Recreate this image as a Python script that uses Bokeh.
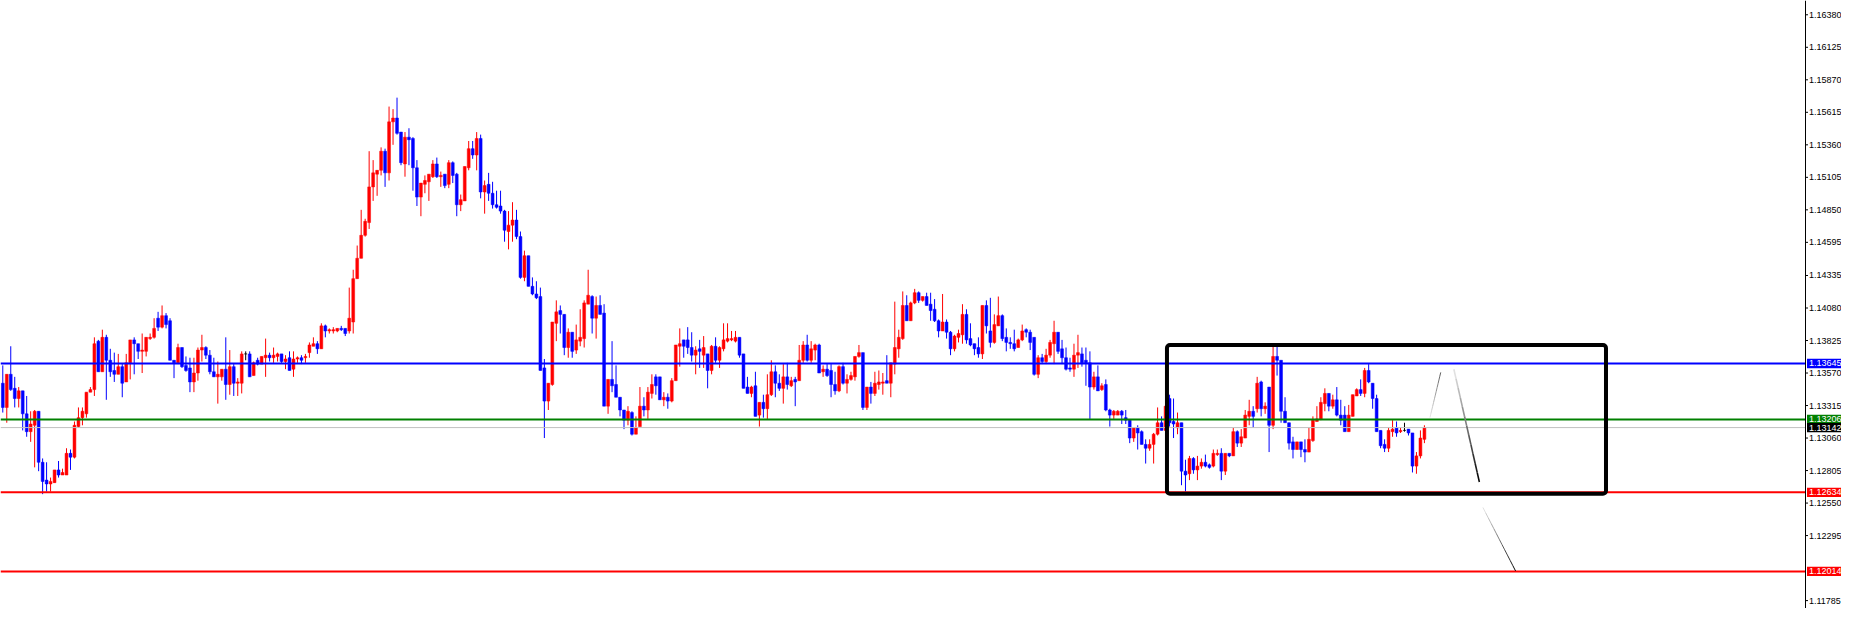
from bokeh.plotting import figure
from bokeh.models import Range1d, BoxAnnotation, ColumnDataSource
from bokeh.core.properties import value
from bokeh.embed import file_html
from bokeh.resources import INLINE

# ---------------- data (candles) ----------------
open_ = [
    1.1349, 1.1330, 1.1356, 1.1345, 1.1337, 1.1343, 1.1325, 1.1311, 1.1316, 1.1327,
    1.1287, 1.1273, 1.1270, 1.1271, 1.1281, 1.1277, 1.1277, 1.1294, 1.1291, 1.1315,
    1.1322, 1.1325, 1.1342, 1.1344, 1.1382, 1.1358, 1.1385, 1.1367, 1.1359, 1.1356,
    1.1362, 1.1350, 1.1365, 1.1383, 1.1380, 1.1374, 1.1374, 1.1384, 1.1385, 1.1400,
    1.1393, 1.1402, 1.1398, 1.1367, 1.1365, 1.1377, 1.1363, 1.1361, 1.1350, 1.1357,
    1.1375, 1.1377, 1.1371, 1.1358, 1.1354, 1.1354, 1.1360, 1.1348, 1.1362, 1.1349,
    1.1349, 1.1372, 1.1372, 1.1355, 1.1367, 1.1364, 1.1369, 1.1371, 1.1369, 1.1370,
    1.1372, 1.1366, 1.1369, 1.1360, 1.1368, 1.1369, 1.1369, 1.1373, 1.1378, 1.1380,
    1.1376, 1.1394, 1.1390, 1.1390, 1.1390, 1.1392, 1.1392, 1.1390, 1.1397, 1.1431,
    1.1447, 1.1465, 1.1475, 1.1503, 1.1513, 1.1516, 1.1531, 1.1514, 1.1554, 1.1557,
    1.1546, 1.1521, 1.1542, 1.1541, 1.1518, 1.1495, 1.1505, 1.1507, 1.1511, 1.1521,
    1.1511, 1.1513, 1.1505, 1.1522, 1.1513, 1.1489, 1.1492, 1.1518, 1.1533, 1.1528,
    1.1541, 1.1499, 1.1505, 1.1498, 1.1489, 1.1488, 1.1484, 1.1468, 1.1473, 1.1477,
    1.1464, 1.1432, 1.1449, 1.1425, 1.1419, 1.1417, 1.1361, 1.1335, 1.1348, 1.1396,
    1.1406, 1.1403, 1.1377, 1.1389, 1.1375, 1.1382, 1.1384, 1.1411, 1.1417, 1.1400,
    1.1410, 1.1404, 1.1331, 1.1352, 1.1348, 1.1338, 1.1328, 1.1320, 1.1326, 1.1309,
    1.1315, 1.1331, 1.1328, 1.1341, 1.1354, 1.1354, 1.1336, 1.1338, 1.1335, 1.1351,
    1.1378, 1.1383, 1.1383, 1.1377, 1.1371, 1.1376, 1.1371, 1.1372, 1.1359, 1.1378,
    1.1367, 1.1376, 1.1382, 1.1383, 1.1382, 1.1385, 1.1372, 1.1346, 1.1341, 1.1347,
    1.1324, 1.1334, 1.1329, 1.1340, 1.1358, 1.1349, 1.1345, 1.1354, 1.1347, 1.1352,
    1.1351, 1.1367, 1.1379, 1.1367, 1.1375, 1.1379, 1.1358, 1.1360, 1.1359, 1.1348,
    1.1343, 1.1362, 1.1349, 1.1352, 1.1354, 1.1370, 1.1373, 1.1330, 1.1346, 1.1341,
    1.1348, 1.1349, 1.1351, 1.1349, 1.1364, 1.1376, 1.1384, 1.1410, 1.1398, 1.1412,
    1.1420, 1.1414, 1.1417, 1.1411, 1.1407, 1.1398, 1.1390, 1.1397, 1.1389, 1.1376,
    1.1385, 1.1387, 1.1403, 1.1384, 1.1380, 1.1377, 1.1372, 1.1410, 1.1390, 1.1381,
    1.1394, 1.1402, 1.1385, 1.1381, 1.1380, 1.1377, 1.1383, 1.1391, 1.1389, 1.1385,
    1.1356, 1.1369, 1.1366, 1.1371, 1.1380, 1.1389, 1.1376, 1.1369, 1.1361, 1.1360,
    1.1371, 1.1372, 1.1367, 1.1365, 1.1346, 1.1354, 1.1344, 1.1348, 1.1328, 1.1324,
    1.1324, 1.1327, 1.1322, 1.1320, 1.1306, 1.1314, 1.1311, 1.1301, 1.1298, 1.1301,
    1.1309, 1.1318, 1.1312, 1.1337, 1.1319, 1.1314, 1.1318, 1.1280, 1.1278, 1.1290,
    1.1281, 1.1284, 1.1287, 1.1285, 1.1284, 1.1293, 1.1294, 1.1280, 1.1294, 1.1292,
    1.1311, 1.1302, 1.1306, 1.1323, 1.1327, 1.1329, 1.1350, 1.1329, 1.1346, 1.1316,
    1.1370, 1.1367, 1.1327, 1.1318, 1.1303, 1.1297, 1.1303, 1.1297, 1.1295, 1.1304,
    1.1319, 1.1321, 1.1333, 1.1341, 1.1331, 1.1336, 1.1324, 1.1324, 1.1311, 1.1323,
    1.1339, 1.1344, 1.1341, 1.1359, 1.1349, 1.1337, 1.1312, 1.1301, 1.1298, 1.1311,
    1.1314, 1.1311, 1.1312, 1.1313, 1.1310, 1.1284, 1.1292, 1.1305,
]
high = [
    1.1363, 1.1356, 1.1378, 1.1354, 1.1346, 1.1343, 1.1339, 1.1327, 1.1328, 1.1327,
    1.1290, 1.1287, 1.1275, 1.1281, 1.1288, 1.1282, 1.1298, 1.1297, 1.1319, 1.1330,
    1.1330, 1.1342, 1.1346, 1.1385, 1.1383, 1.1391, 1.1387, 1.1376, 1.1373, 1.1372,
    1.1364, 1.1372, 1.1383, 1.1385, 1.1380, 1.1388, 1.1385, 1.1388, 1.1400, 1.1405,
    1.1410, 1.1404, 1.1400, 1.1367, 1.1380, 1.1377, 1.1370, 1.1369, 1.1369, 1.1377,
    1.1387, 1.1378, 1.1375, 1.1369, 1.1366, 1.1360, 1.1385, 1.1375, 1.1364, 1.1353,
    1.1374, 1.1374, 1.1374, 1.1366, 1.1369, 1.1370, 1.1384, 1.1373, 1.1377, 1.1373,
    1.1372, 1.1371, 1.1374, 1.1374, 1.1370, 1.1371, 1.1372, 1.1381, 1.1385, 1.1382,
    1.1396, 1.1395, 1.1392, 1.1393, 1.1392, 1.1394, 1.1392, 1.1424, 1.1438, 1.1457,
    1.1485, 1.1478, 1.1531, 1.1524, 1.1516, 1.1534, 1.1533, 1.1566, 1.1564, 1.1573,
    1.1546, 1.1546, 1.1549, 1.1542, 1.1524, 1.1506, 1.1512, 1.1513, 1.1524, 1.1526,
    1.1515, 1.1513, 1.1524, 1.1523, 1.1514, 1.1497, 1.1519, 1.1539, 1.1539, 1.1546,
    1.1544, 1.1508, 1.1514, 1.1507, 1.1500, 1.1500, 1.1485, 1.1484, 1.1491, 1.1485,
    1.1468, 1.1453, 1.1449, 1.1432, 1.1429, 1.1424, 1.1368, 1.1349, 1.1397, 1.1414,
    1.1410, 1.1403, 1.1392, 1.1389, 1.1395, 1.1407, 1.1414, 1.1438, 1.1418, 1.1417,
    1.1418, 1.1411, 1.1352, 1.1382, 1.1363, 1.1338, 1.1328, 1.1331, 1.1327, 1.1323,
    1.1346, 1.1338, 1.1346, 1.1356, 1.1356, 1.1354, 1.1342, 1.1341, 1.1353, 1.1379,
    1.1392, 1.1383, 1.1393, 1.1389, 1.1378, 1.1383, 1.1386, 1.1372, 1.1379, 1.1385,
    1.1378, 1.1396, 1.1396, 1.1390, 1.1390, 1.1385, 1.1372, 1.1354, 1.1347, 1.1358,
    1.1334, 1.1340, 1.1356, 1.1367, 1.1363, 1.1356, 1.1364, 1.1365, 1.1354, 1.1354,
    1.1379, 1.1382, 1.1387, 1.1382, 1.1380, 1.1380, 1.1363, 1.1364, 1.1364, 1.1358,
    1.1363, 1.1365, 1.1356, 1.1358, 1.1370, 1.1379, 1.1373, 1.1346, 1.1350, 1.1358,
    1.1359, 1.1357, 1.1371, 1.1365, 1.1413, 1.1391, 1.1421, 1.1418, 1.1413, 1.1423,
    1.1421, 1.1417, 1.1420, 1.1420, 1.1415, 1.1399, 1.1419, 1.1399, 1.1390, 1.1387,
    1.1391, 1.1411, 1.1407, 1.1396, 1.1380, 1.1385, 1.1410, 1.1414, 1.1416, 1.1403,
    1.1417, 1.1403, 1.1392, 1.1385, 1.1391, 1.1384, 1.1395, 1.1392, 1.1391, 1.1385,
    1.1371, 1.1372, 1.1376, 1.1383, 1.1398, 1.1389, 1.1383, 1.1377, 1.1369, 1.1380,
    1.1387, 1.1377, 1.1377, 1.1374, 1.1358, 1.1363, 1.1349, 1.1352, 1.1329, 1.1328,
    1.1328, 1.1328, 1.1328, 1.1320, 1.1314, 1.1316, 1.1312, 1.1305, 1.1305, 1.1310,
    1.1330, 1.1323, 1.1331, 1.1340, 1.1337, 1.1326, 1.1318, 1.1289, 1.1292, 1.1291,
    1.1292, 1.1290, 1.1293, 1.1286, 1.1297, 1.1297, 1.1298, 1.1294, 1.1294, 1.1314,
    1.1312, 1.1313, 1.1328, 1.1336, 1.1331, 1.1354, 1.1351, 1.1334, 1.1346, 1.1380,
    1.1378, 1.1367, 1.1338, 1.1318, 1.1307, 1.1303, 1.1303, 1.1305, 1.1314, 1.1323,
    1.1331, 1.1338, 1.1345, 1.1341, 1.1340, 1.1346, 1.1336, 1.1331, 1.1332, 1.1340,
    1.1345, 1.1352, 1.1361, 1.1364, 1.1349, 1.1340, 1.1312, 1.1305, 1.1314, 1.1320,
    1.1319, 1.1314, 1.1318, 1.1313, 1.1310, 1.1295, 1.1312, 1.1316,
]
low = [
    1.1326, 1.1318, 1.1343, 1.1330, 1.1330, 1.1312, 1.1307, 1.1303, 1.1283, 1.1280,
    1.1262, 1.1264, 1.1264, 1.1271, 1.1275, 1.1277, 1.1277, 1.1281, 1.1290, 1.1314,
    1.1316, 1.1322, 1.1342, 1.1339, 1.1358, 1.1358, 1.1336, 1.1354, 1.1350, 1.1356,
    1.1338, 1.1350, 1.1352, 1.1356, 1.1368, 1.1357, 1.1370, 1.1383, 1.1384, 1.1390,
    1.1392, 1.1392, 1.1367, 1.1353, 1.1364, 1.1361, 1.1358, 1.1342, 1.1342, 1.1351,
    1.1366, 1.1368, 1.1356, 1.1354, 1.1333, 1.1351, 1.1336, 1.1340, 1.1339, 1.1339,
    1.1341, 1.1367, 1.1354, 1.1355, 1.1363, 1.1364, 1.1354, 1.1366, 1.1365, 1.1366,
    1.1365, 1.1360, 1.1359, 1.1354, 1.1365, 1.1364, 1.1365, 1.1369, 1.1378, 1.1372,
    1.1376, 1.1385, 1.1388, 1.1388, 1.1389, 1.1390, 1.1386, 1.1388, 1.1388, 1.1431,
    1.1447, 1.1464, 1.1470, 1.1492, 1.1496, 1.1512, 1.1503, 1.1508, 1.1536, 1.1544,
    1.1520, 1.1511, 1.1520, 1.1500, 1.1488, 1.1480, 1.1498, 1.1492, 1.1510, 1.1510,
    1.1503, 1.1502, 1.1502, 1.1506, 1.1480, 1.1484, 1.1492, 1.1516, 1.1525, 1.1516,
    1.1494, 1.1482, 1.1492, 1.1486, 1.1486, 1.1482, 1.1460, 1.1454, 1.1460, 1.1462,
    1.1431, 1.1429, 1.1425, 1.1418, 1.1415, 1.1359, 1.1306, 1.1328, 1.1347, 1.1382,
    1.1388, 1.1371, 1.1369, 1.1369, 1.1372, 1.1378, 1.1377, 1.1411, 1.1388, 1.1384,
    1.1403, 1.1331, 1.1325, 1.1342, 1.1338, 1.1323, 1.1313, 1.1316, 1.1308, 1.1309,
    1.1315, 1.1323, 1.1321, 1.1337, 1.1340, 1.1336, 1.1331, 1.1329, 1.1334, 1.1351,
    1.1362, 1.1369, 1.1372, 1.1366, 1.1356, 1.1361, 1.1361, 1.1345, 1.1356, 1.1365,
    1.1361, 1.1374, 1.1381, 1.1382, 1.1381, 1.1369, 1.1345, 1.1341, 1.1338, 1.1323,
    1.1315, 1.1322, 1.1321, 1.1339, 1.1338, 1.1343, 1.1333, 1.1344, 1.1346, 1.1331,
    1.1351, 1.1365, 1.1366, 1.1365, 1.1367, 1.1357, 1.1354, 1.1354, 1.1338, 1.1340,
    1.1342, 1.1348, 1.1341, 1.1351, 1.1351, 1.1369, 1.1328, 1.1328, 1.1333, 1.1339,
    1.1344, 1.1340, 1.1349, 1.1338, 1.1356, 1.1369, 1.1383, 1.1398, 1.1398, 1.1411,
    1.1412, 1.1413, 1.1410, 1.1398, 1.1397, 1.1385, 1.1390, 1.1384, 1.1371, 1.1374,
    1.1381, 1.1380, 1.1380, 1.1378, 1.1371, 1.1369, 1.1368, 1.1388, 1.1377, 1.1380,
    1.1394, 1.1382, 1.1374, 1.1376, 1.1374, 1.1377, 1.1382, 1.1385, 1.1375, 1.1355,
    1.1353, 1.1364, 1.1364, 1.1369, 1.1364, 1.1372, 1.1364, 1.1359, 1.1358, 1.1354,
    1.1361, 1.1362, 1.1347, 1.1321, 1.1344, 1.1343, 1.1343, 1.1327, 1.1315, 1.1321,
    1.1324, 1.1317, 1.1317, 1.1302, 1.1303, 1.1297, 1.1301, 1.1286, 1.1296, 1.1286,
    1.1308, 1.1312, 1.1312, 1.1315, 1.1306, 1.1309, 1.1269, 1.1264, 1.1273, 1.1278,
    1.1273, 1.1282, 1.1283, 1.1282, 1.1283, 1.1292, 1.1273, 1.1277, 1.1291, 1.1292,
    1.1299, 1.1299, 1.1306, 1.1316, 1.1314, 1.1326, 1.1323, 1.1325, 1.1295, 1.1313,
    1.1355, 1.1318, 1.1318, 1.1297, 1.1290, 1.1297, 1.1291, 1.1287, 1.1295, 1.1303,
    1.1319, 1.1320, 1.1327, 1.1327, 1.1329, 1.1323, 1.1316, 1.1311, 1.1311, 1.1323,
    1.1339, 1.1339, 1.1338, 1.1349, 1.1329, 1.1311, 1.1298, 1.1295, 1.1295, 1.1307,
    1.1307, 1.1310, 1.1311, 1.1308, 1.1279, 1.1278, 1.1290, 1.1302,
]
close = [
    1.1330, 1.1356, 1.1344, 1.1337, 1.1343, 1.1325, 1.1311, 1.1317, 1.1327, 1.1287,
    1.1272, 1.1270, 1.1272, 1.1281, 1.1277, 1.1279, 1.1294, 1.1291, 1.1316, 1.1322,
    1.1327, 1.1342, 1.1344, 1.1380, 1.1358, 1.1385, 1.1367, 1.1358, 1.1356, 1.1362,
    1.1349, 1.1365, 1.1383, 1.1380, 1.1374, 1.1375, 1.1385, 1.1385, 1.1392, 1.1393,
    1.1402, 1.1395, 1.1367, 1.1365, 1.1377, 1.1362, 1.1359, 1.1350, 1.1357, 1.1375,
    1.1377, 1.1371, 1.1358, 1.1354, 1.1356, 1.1360, 1.1348, 1.1362, 1.1349, 1.1350,
    1.1372, 1.1372, 1.1354, 1.1365, 1.1364, 1.1370, 1.1371, 1.1369, 1.1371, 1.1372,
    1.1366, 1.1368, 1.1359, 1.1368, 1.1369, 1.1367, 1.1370, 1.1379, 1.1380, 1.1376,
    1.1394, 1.1390, 1.1391, 1.1391, 1.1392, 1.1391, 1.1388, 1.1400, 1.1431, 1.1447,
    1.1465, 1.1476, 1.1503, 1.1514, 1.1516, 1.1531, 1.1514, 1.1554, 1.1557, 1.1545,
    1.1522, 1.1542, 1.1540, 1.1518, 1.1495, 1.1506, 1.1508, 1.1513, 1.1521, 1.1511,
    1.1512, 1.1504, 1.1522, 1.1512, 1.1489, 1.1493, 1.1519, 1.1533, 1.1528, 1.1541,
    1.1499, 1.1504, 1.1498, 1.1489, 1.1487, 1.1484, 1.1469, 1.1473, 1.1477, 1.1464,
    1.1432, 1.1449, 1.1425, 1.1419, 1.1416, 1.1359, 1.1335, 1.1349, 1.1397, 1.1405,
    1.1403, 1.1377, 1.1389, 1.1374, 1.1383, 1.1385, 1.1412, 1.1418, 1.1400, 1.1410,
    1.1403, 1.1331, 1.1352, 1.1347, 1.1338, 1.1328, 1.1320, 1.1327, 1.1309, 1.1314,
    1.1331, 1.1328, 1.1342, 1.1348, 1.1347, 1.1336, 1.1338, 1.1335, 1.1351, 1.1379,
    1.1380, 1.1378, 1.1377, 1.1371, 1.1375, 1.1374, 1.1377, 1.1359, 1.1378, 1.1367,
    1.1377, 1.1383, 1.1384, 1.1384, 1.1385, 1.1371, 1.1345, 1.1341, 1.1346, 1.1323,
    1.1334, 1.1329, 1.1340, 1.1358, 1.1349, 1.1345, 1.1354, 1.1348, 1.1351, 1.1350,
    1.1367, 1.1379, 1.1367, 1.1376, 1.1379, 1.1357, 1.1360, 1.1355, 1.1348, 1.1343,
    1.1362, 1.1349, 1.1352, 1.1355, 1.1370, 1.1373, 1.1330, 1.1346, 1.1341, 1.1349,
    1.1350, 1.1350, 1.1349, 1.1365, 1.1377, 1.1385, 1.1410, 1.1398, 1.1412, 1.1420,
    1.1414, 1.1417, 1.1410, 1.1406, 1.1398, 1.1390, 1.1397, 1.1389, 1.1376, 1.1386,
    1.1388, 1.1403, 1.1383, 1.1379, 1.1376, 1.1372, 1.1410, 1.1394, 1.1381, 1.1395,
    1.1402, 1.1384, 1.1381, 1.1380, 1.1376, 1.1383, 1.1390, 1.1389, 1.1381, 1.1356,
    1.1369, 1.1366, 1.1371, 1.1381, 1.1389, 1.1374, 1.1369, 1.1360, 1.1360, 1.1371,
    1.1373, 1.1365, 1.1365, 1.1346, 1.1354, 1.1343, 1.1347, 1.1328, 1.1324, 1.1327,
    1.1327, 1.1324, 1.1320, 1.1306, 1.1314, 1.1310, 1.1301, 1.1298, 1.1301, 1.1309,
    1.1318, 1.1312, 1.1331, 1.1318, 1.1317, 1.1318, 1.1280, 1.1277, 1.1290, 1.1281,
    1.1284, 1.1287, 1.1284, 1.1283, 1.1294, 1.1294, 1.1280, 1.1294, 1.1292, 1.1311,
    1.1302, 1.1307, 1.1324, 1.1327, 1.1323, 1.1349, 1.1329, 1.1331, 1.1316, 1.1370,
    1.1367, 1.1327, 1.1318, 1.1302, 1.1297, 1.1303, 1.1297, 1.1295, 1.1305, 1.1320,
    1.1321, 1.1334, 1.1341, 1.1331, 1.1336, 1.1324, 1.1320, 1.1311, 1.1324, 1.1340,
    1.1344, 1.1341, 1.1359, 1.1350, 1.1337, 1.1311, 1.1300, 1.1298, 1.1312, 1.1313,
    1.1310, 1.1312, 1.1312, 1.1310, 1.1284, 1.1292, 1.1306, 1.1314,
]

# price-scale tick labels
tick_values = [1.16380, 1.16125, 1.15870, 1.15615, 1.15360, 1.15105, 1.14850, 1.14595,
               1.14335, 1.14080, 1.13825, 1.13570, 1.13315, 1.13060, 1.12805, 1.12550,
               1.12295, 1.11785]

# horizontal levels
level_values = [1.13645, 1.13206, 1.13142, 1.12634, 1.12014]
level_line_colors = ["#0000ff", "#008000", "#c0c0c0", "#ff0000", "#ff0000"]
level_tag_colors = ["#0000ff", "#008000", "#000000", "#ff0000", "#ff0000"]
level_widths = [2, 2, 1, 2, 2]

# consolidation box (bar index / price)
box_x = [292.35, 402.6]
box_y = [1.12624, 1.1379]

# hand-drawn strokes: light end (x0, y0) -> dark end (x1, y1)
trend_x0 = [358.4, 364.4, 371.7]
trend_y0 = [1.13221, 1.13600, 1.12515]
trend_x1 = [361.1, 370.8, 379.9]
trend_y1 = [1.13575, 1.12715, 1.12017]
trend_end_grey = [90, 0, 0]
trend_widths = [1, 1.6, 1]

# ---------------- figure ----------------
W, H = 1841, 608
AXIS_W = 36                      # width of the price-scale strip
X_START, X_END = -0.575, 452.7   # bar-index span of the chart area
Y_START, Y_END = 1.11723, 1.16492
px_x = (X_END - X_START) / (W - AXIS_W)
px_y = (Y_END - Y_START) / H
XR_END = X_START + W * px_x

p = figure(width=W, height=H, output_backend="svg", toolbar_location=None,
           x_range=Range1d(X_START, XR_END), y_range=Range1d(Y_START, Y_END),
           x_axis_location=None, y_axis_location=None,
           min_border_left=0, min_border_top=0, min_border_bottom=0, min_border_right=0)
p.outline_line_color = None
p.grid.visible = False
p.background_fill_color = "white"

# candles
n = len(open_)
idx = list(range(n))
colors = ["#ff0000" if c > o else ("#0000ff" if c < o else "#000000") for o, c in zip(open_, close)]
top = [max(o, c) for o, c in zip(open_, close)]
bot = [min(o, c) for o, c in zip(open_, close)]
hi = [max(h, t) for h, t in zip(high, top)]
lo = [min(l, b) for l, b in zip(low, bot)]
src = ColumnDataSource(dict(x=idx, top=top, bot=bot, hi=hi, lo=lo, color=colors))
p.segment(x0="x", y0="lo", x1="x", y1="hi", color="color", line_width=1, source=src)
p.vbar(x="x", top="top", bottom="bot", width=0.72, fill_color="color", line_color="color",
       line_width=0.5, source=src)

# horizontal levels across the chart area
p.segment(x0=[X_START] * len(level_values), y0=level_values,
          x1=[X_END] * len(level_values), y1=level_values,
          line_color=level_line_colors, line_width=level_widths)

# box
p.add_layout(BoxAnnotation(left=box_x[0], right=box_x[1], bottom=box_y[0], top=box_y[1],
                           fill_alpha=0, line_color="black", line_alpha=1.0, line_width=4,
                           border_radius=3))

# gradient strokes
for x0, y0, x1, y1, g_end, lw in zip(trend_x0, trend_y0, trend_x1, trend_y1, trend_end_grey, trend_widths):
    segs = 12
    xs, ys, cs = [], [], []
    for k in range(segs):
        t0, t1 = k / segs, (k + 1) / segs
        xs.append([x0 + (x1 - x0) * t0, x0 + (x1 - x0) * t1])
        ys.append([y0 + (y1 - y0) * t0, y0 + (y1 - y0) * t1])
        g = int(235 + (g_end - 235) * (k + 0.5) / segs)
        cs.append("#%02x%02x%02x" % (g, g, g))
    p.multi_line(xs=xs, ys=ys, line_color=cs, line_width=lw)

# price scale (right strip)
FONT = value("Liberation Sans")
p.segment(x0=[X_END], y0=[Y_START], x1=[X_END], y1=[Y_END], line_color="black", line_width=1)
p.segment(x0=[X_END] * len(tick_values), y0=tick_values,
          x1=[X_END + 2.5 * px_x] * len(tick_values), y1=tick_values,
          line_color="black", line_width=1)
p.text(x=[X_END + 3.5 * px_x] * len(tick_values), y=tick_values,
       text=["%.5f" % v for v in tick_values],
       text_font=FONT, text_font_size="9px",
       text_baseline="middle", text_align="left", text_color="black")

# coloured price tags
p.quad(left=[X_END + 1.5 * px_x] * len(level_values), right=[XR_END] * len(level_values),
       bottom=[v - 4.7 * px_y for v in level_values], top=[v + 4.7 * px_y for v in level_values],
       fill_color=level_tag_colors, line_color=None)
p.text(x=[X_END + 3.5 * px_x] * len(level_values), y=level_values,
       text=["%.5f" % v for v in level_values],
       text_font=FONT, text_font_size="9px",
       text_baseline="middle", text_align="left", text_color="white")

open("out.html", "w").write(file_html(p, INLINE))
